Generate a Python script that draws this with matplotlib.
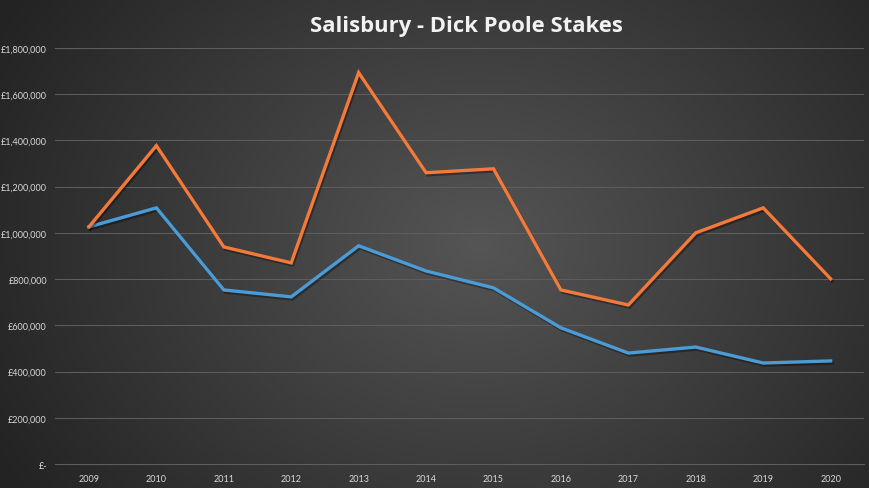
import numpy as np
import matplotlib
matplotlib.use("Agg")
import matplotlib.pyplot as plt
from matplotlib.ticker import FuncFormatter, MultipleLocator
import matplotlib.patheffects as pe

years = ["2009", "2010", "2011", "2012", "2013", "2014", "2015", "2016", "2017", "2018", "2019", "2020"]
orange_series = [1026000, 1377000, 939000, 870000, 1693000, 1260000, 1277000, 753000, 688000, 1000000, 1108000, 801000]
blue_series = [1026000, 1108000, 753000, 723000, 944000, 835000, 762000, 589000, 480000, 506000, 437000, 446000]

W, H = 870, 489
fig = plt.figure(figsize=(W / 100, H / 100), dpi=100)

# radial gradient background
bg = fig.add_axes([0, 0, 1, 1])
yy, xx = np.mgrid[0:H, 0:W]
cx, cy = W * 0.55, H * 0.50
r = np.sqrt(((xx - cx) / (W * 0.62)) ** 2 + ((yy - cy) / (H * 0.9)) ** 2)
r = np.clip(r, 0, 1)
c_in, c_out = 0x55 / 255, 0x24 / 255
v = c_in + (c_out - c_in) * r
img = np.dstack([v, v, v])
bg.imshow(img, aspect="auto", extent=[0, 1, 0, 1], zorder=0)
bg.set_axis_off()

ax = fig.add_axes([0.0635, 0.049, 0.930, 0.851])
ax.patch.set_alpha(0)
x = np.arange(len(years))

shadow = [pe.SimpleLineShadow(offset=(1, -1.5), shadow_color="black", alpha=0.35), pe.Normal()]
ax.plot(x, blue_series, color="#4A9BD6", lw=2.4, solid_joinstyle="miter", path_effects=shadow, zorder=3)
ax.plot(x, orange_series, color="#F47A3A", lw=2.4, solid_joinstyle="miter", path_effects=shadow, zorder=4)

ax.set_xlim(-0.5, len(years) - 0.5)
ax.set_ylim(0, 1800000)
ax.yaxis.set_major_locator(MultipleLocator(200000))
ax.yaxis.set_major_formatter(FuncFormatter(lambda v, p: "£-" if v == 0 else "£{:,.0f}".format(v)))
ax.set_xticks(x)
ax.set_xticklabels(years)
ax.grid(axis="y", color="#5E5E5E", lw=0.75)
ax.set_axisbelow(True)
for s in ["top", "right", "left"]:
    ax.spines[s].set_visible(False)
ax.spines["bottom"].set_color("#5E5E5E")
ax.spines["bottom"].set_linewidth(0.75)
ax.tick_params(axis="both", length=0, labelsize=6.5, colors="#D9D9D9")
for lab in ax.get_xticklabels() + ax.get_yticklabels():
    lab.set_family("Lato")
ax.tick_params(axis="x", pad=7)
ax.tick_params(axis="y", pad=6)

fig.text(0.536, 0.945, "Salisbury - Dick Poole Stakes", ha="center", va="center",
         color="#F2F2F2", fontsize=15.8, fontweight="bold", family="Open Sans")

fig.savefig("out.png", dpi=100)
